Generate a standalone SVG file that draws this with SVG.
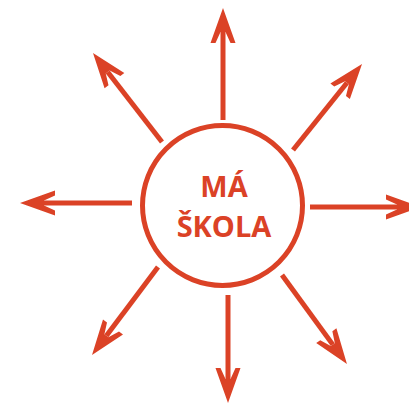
<svg xmlns="http://www.w3.org/2000/svg" width="409" height="405" viewBox="0 0 409 405">
<style>
.ln{stroke:#db4226;stroke-width:5;fill:none;marker-end:url(#ah)}
.lbl{font-family:"Open Sans","Liberation Sans",sans-serif;font-weight:bold;font-size:29px;fill:#db4226;text-anchor:middle}
</style>
<defs>
<marker id="ah" markerUnits="userSpaceOnUse" orient="auto" refX="0" refY="0" markerWidth="1" markerHeight="1" overflow="visible">
<path d="M24,0 L-11,-12.5 L-11,-7.5 L0,-2.5 L0,2.5 L-11,7.5 L-11,12.5 Z" fill="#db4226"/>
</marker>
</defs>
<rect width="409" height="405" fill="#fff"/>
<g id="center">
<circle cx="222.5" cy="205.5" r="80" fill="none" stroke="#db4226" stroke-width="5"/>
<text class="lbl" x="224" y="197">MÁ</text>
<text class="lbl" x="224" y="237">ŠKOLA</text>
</g>
<g id="connectors">
<line class="ln" x1="223" y1="120" x2="223" y2="32"/>
<line class="ln" x1="228" y1="295" x2="228" y2="379"/>
<line class="ln" x1="132" y1="203" x2="44" y2="203"/>
<line class="ln" x1="310" y1="207" x2="397" y2="207"/>
<line class="ln" x1="293" y1="150" x2="347" y2="82.7"/>
<line class="ln" x1="162" y1="142" x2="107.7" y2="72"/>
<line class="ln" x1="158" y1="267" x2="106.4" y2="335.8"/>
<line class="ln" x1="282" y1="275" x2="332.8" y2="344.6"/>
</g>
</svg>
